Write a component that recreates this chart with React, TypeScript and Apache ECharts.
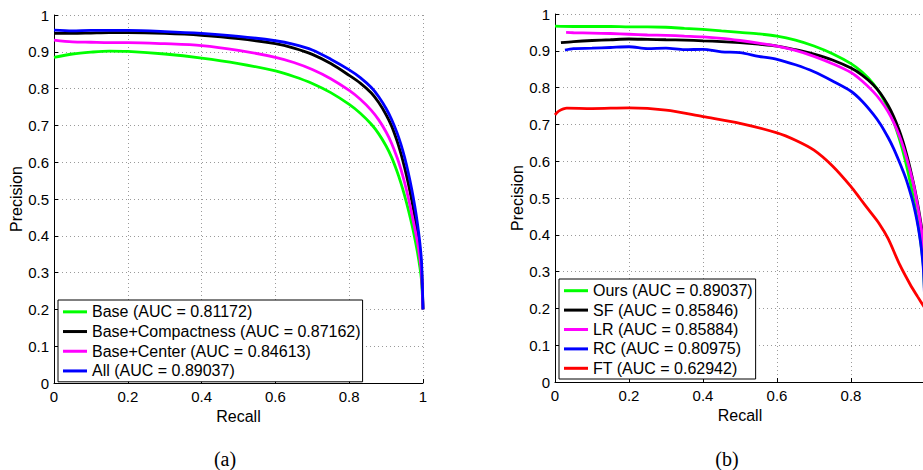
import React, { useEffect, useRef } from "react";
import * as echarts from "echarts";

const FONT = "'Liberation Sans', Arial, Helvetica, sans-serif";
const SERIF = "'Liberation Serif', 'Times New Roman', serif";

// ---------- Panel (a): shared recall samples ----------
const recallA = [0, 0.05, 0.1, 0.15, 0.2, 0.3, 0.4, 0.5, 0.6, 0.65, 0.7, 0.75, 0.8, 0.83, 0.86, 0.88, 0.9, 0.915, 0.93, 0.94, 0.95, 0.96, 0.97, 0.978, 0.985, 0.991, 0.996, 1];

const baseName = "Base (AUC = 0.81172)";
const basePrecision = [0.885, 0.894, 0.899, 0.902, 0.901, 0.894, 0.883, 0.868, 0.848, 0.833, 0.814, 0.789, 0.757, 0.733, 0.703, 0.677, 0.644, 0.613, 0.574, 0.544, 0.51, 0.472, 0.43, 0.392, 0.355, 0.318, 0.278, 0.2];

const compName = "Base+Compactness (AUC = 0.87162)";
const compPrecision = [0.95, 0.95, 0.951, 0.952, 0.952, 0.95, 0.945, 0.936, 0.922, 0.91, 0.893, 0.868, 0.836, 0.815, 0.788, 0.762, 0.729, 0.698, 0.657, 0.624, 0.586, 0.543, 0.494, 0.45, 0.406, 0.361, 0.311, 0.2];

const centerName = "Base+Center (AUC = 0.84613)";
const centerPrecision = [0.932, 0.927, 0.926, 0.925, 0.925, 0.922, 0.917, 0.904, 0.885, 0.871, 0.852, 0.827, 0.795, 0.771, 0.741, 0.715, 0.682, 0.651, 0.612, 0.581, 0.545, 0.504, 0.458, 0.419, 0.383, 0.344, 0.299, 0.2];

const allName = "All (AUC = 0.89037)";
const allPrecision = [0.959, 0.957, 0.958, 0.958, 0.958, 0.955, 0.95, 0.942, 0.93, 0.92, 0.905, 0.88, 0.851, 0.83, 0.803, 0.778, 0.746, 0.716, 0.679, 0.649, 0.614, 0.572, 0.524, 0.479, 0.433, 0.385, 0.33, 0.2];

// ---------- Panel (b) ----------
const oursName = "Ours (AUC = 0.89037)";
const oursRecall = [0, 0.05, 0.1, 0.15, 0.2, 0.25, 0.3, 0.35, 0.4, 0.45, 0.5, 0.55, 0.6, 0.65, 0.7, 0.75, 0.8, 0.83, 0.86, 0.88, 0.9, 0.915, 0.93, 0.94, 0.95, 0.96, 0.97, 0.978, 0.985, 0.991, 0.996, 1];
const oursPrecision = [0.967, 0.966, 0.966, 0.966, 0.965, 0.965, 0.964, 0.961, 0.958, 0.954, 0.95, 0.946, 0.94, 0.929, 0.913, 0.892, 0.865, 0.842, 0.811, 0.782, 0.744, 0.708, 0.663, 0.628, 0.588, 0.543, 0.493, 0.448, 0.404, 0.359, 0.309, 0.2];

const sfName = "SF (AUC = 0.85846)";
const sfRecall = [0.016, 0.05, 0.1, 0.15, 0.2, 0.25, 0.3, 0.35, 0.4, 0.45, 0.5, 0.55, 0.6, 0.65, 0.7, 0.75, 0.8, 0.83, 0.86, 0.88, 0.9, 0.915, 0.93, 0.94, 0.95, 0.96, 0.97, 0.978, 0.985, 0.991, 0.996, 1];
const sfPrecision = [0.922, 0.925, 0.928, 0.93, 0.932, 0.931, 0.93, 0.929, 0.927, 0.925, 0.922, 0.918, 0.913, 0.903, 0.891, 0.875, 0.853, 0.834, 0.808, 0.784, 0.752, 0.722, 0.685, 0.655, 0.62, 0.58, 0.535, 0.495, 0.456, 0.418, 0.38, 0.2];

const lrName = "LR (AUC = 0.85884)";
const lrRecall = [0.03, 0.05, 0.1, 0.15, 0.2, 0.25, 0.3, 0.35, 0.4, 0.45, 0.5, 0.55, 0.6, 0.65, 0.7, 0.75, 0.8, 0.83, 0.86, 0.88, 0.9, 0.915, 0.93, 0.94, 0.95, 0.96, 0.97, 0.978, 0.985, 0.991, 0.996, 1];
const lrPrecision = [0.95, 0.949, 0.948, 0.947, 0.945, 0.943, 0.942, 0.94, 0.938, 0.934, 0.928, 0.921, 0.913, 0.901, 0.885, 0.865, 0.841, 0.818, 0.789, 0.765, 0.735, 0.706, 0.671, 0.643, 0.61, 0.573, 0.532, 0.49, 0.45, 0.41, 0.36, 0.2];

const rcName = "RC (AUC = 0.80975)";
const rcRecall = [0.027, 0.05, 0.1, 0.15, 0.2, 0.25, 0.3, 0.35, 0.4, 0.45, 0.5, 0.55, 0.6, 0.65, 0.7, 0.75, 0.8, 0.83, 0.86, 0.88, 0.9, 0.915, 0.93, 0.94, 0.95, 0.96, 0.97, 0.978, 0.985, 0.991, 0.996, 1];
const rcPrecision = [0.902, 0.906, 0.907, 0.909, 0.911, 0.906, 0.907, 0.903, 0.904, 0.897, 0.895, 0.885, 0.877, 0.862, 0.843, 0.818, 0.79, 0.763, 0.728, 0.7, 0.665, 0.635, 0.6, 0.575, 0.548, 0.515, 0.478, 0.44, 0.4, 0.355, 0.3, 0.2];

const ftName = "FT (AUC = 0.62942)";
const ftRecall = [0, 0.01, 0.032, 0.1, 0.2, 0.3, 0.4, 0.5, 0.6, 0.65, 0.7, 0.75, 0.8, 0.825, 0.85, 0.875, 0.9, 0.932, 0.96, 0.98, 1];
const ftPrecision = [0.726, 0.736, 0.744, 0.743, 0.745, 0.739, 0.721, 0.703, 0.677, 0.657, 0.63, 0.587, 0.531, 0.498, 0.465, 0.432, 0.39, 0.318, 0.265, 0.232, 0.2];

const xTicks = { min: 0, max: 1, interval: 0.2 };
const yTicks = { min: 0, max: 1, interval: 0.1 };
const captions = ["(a)", "(b)"];

const zip = (xs: number[], ys: number[]) => xs.map((x, i) => [x, ys[i]]);
const fmt = (v: number) => String(Math.round(v * 10) / 10);

const gridLine = { show: true, lineStyle: { color: "#9a9a9a", width: 1, type: [1, 3] } };

function xAxis(gridIndex: number, showMax: boolean) {
  return {
    type: "value",
    gridIndex,
    ...xTicks,
    name: "Recall",
    nameLocation: "middle",
    nameGap: 17,
    nameTextStyle: { fontFamily: FONT, fontSize: 16, color: "#000" },
    axisLine: { show: true, onZero: false, lineStyle: { color: "#000", width: 1 } },
    axisTick: { show: true, inside: true, length: 4, lineStyle: { color: "#000", width: 1 } },
    axisLabel: { fontFamily: FONT, fontSize: 15, color: "#000", margin: 6, formatter: fmt, showMaxLabel: showMax },
    splitLine: gridLine,
  };
}

function yAxis(gridIndex: number) {
  return {
    type: "value",
    gridIndex,
    ...yTicks,
    name: "Precision",
    nameLocation: "middle",
    nameGap: 28,
    nameTextStyle: { fontFamily: FONT, fontSize: 16, color: "#000" },
    axisLine: { show: true, onZero: false, lineStyle: { color: "#000", width: 1 } },
    axisTick: { show: true, inside: true, length: 4, lineStyle: { color: "#000", width: 1 } },
    axisLabel: { fontFamily: FONT, fontSize: 15, color: "#000", margin: 5, formatter: fmt },
    splitLine: gridLine,
  };
}

function line(name: string, idx: number, rec: number[], prec: number[], color: string) {
  return {
    type: "line",
    name,
    xAxisIndex: idx,
    yAxisIndex: idx,
    data: zip(rec, prec),
    symbol: "none",
    showSymbol: false,
    smooth: 0.3,
    lineStyle: { color, width: 2.8 },
    itemStyle: { color },
    emphasis: { disabled: true },
  };
}

const legendCommon = {
  orient: "vertical",
  icon: "rect",
  itemWidth: 24,
  itemHeight: 3,
  itemGap: 0,
  borderColor: "#000",
  borderWidth: 1,
  borderRadius: 0,
  backgroundColor: "#fff",
  selectedMode: false,
};

export default function App() {
  const ref = useRef<HTMLDivElement>(null);
  useEffect(() => {
    if (!ref.current) return;
    const chart = echarts.init(ref.current, null, { renderer: "svg" });
    chart.setOption({
      animation: false,
      backgroundColor: "#fff",
      grid: [
        { left: 54, top: 15, width: 369, height: 368, containLabel: false, outerBoundsMode: "none" },
        { left: 555, top: 14, width: 370, height: 368, containLabel: false, outerBoundsMode: "none" },
      ],
      xAxis: [xAxis(0, true), xAxis(1, false)],
      yAxis: [yAxis(0), yAxis(1)],
      legend: [
        {
          ...legendCommon,
          data: [baseName, compName, centerName, allName],
          left: 58,
          top: 300,
          padding: [2, 2, 1, 5],
          textStyle: { fontFamily: FONT, fontSize: 16, color: "#000", lineHeight: 19.7 },
        },
        {
          ...legendCommon,
          data: [oursName, sfName, lrName, rcName, ftName],
          left: 559,
          top: 279,
          padding: [2, 3, 1, 5],
          textStyle: { fontFamily: FONT, fontSize: 16, color: "#000", lineHeight: 19.4 },
        },
      ],
      series: [
        line(baseName, 0, recallA, basePrecision, "#00ff00"),
        line(compName, 0, recallA, compPrecision, "#000000"),
        line(centerName, 0, recallA, centerPrecision, "#ff00ff"),
        line(allName, 0, recallA, allPrecision, "#0000ff"),
        line(oursName, 1, oursRecall, oursPrecision, "#00ff00"),
        line(sfName, 1, sfRecall, sfPrecision, "#000000"),
        line(lrName, 1, lrRecall, lrPrecision, "#ff00ff"),
        line(rcName, 1, rcRecall, rcPrecision, "#0000ff"),
        line(ftName, 1, ftRecall, ftPrecision, "#ff0000"),
      ],
      graphic: [
        {
          type: "text",
          x: 225,
          y: 459,
          style: { text: captions[0], fontFamily: SERIF, fontSize: 20, fill: "#000", align: "center", verticalAlign: "middle" },
        },
        {
          type: "text",
          x: 727,
          y: 459,
          style: { text: captions[1], fontFamily: SERIF, fontSize: 20, fill: "#000", align: "center", verticalAlign: "middle" },
        },
      ],
    });
    return () => chart.dispose();
  }, []);
  return (
    <div
      ref={ref}
      style={{ position: "fixed", left: 0, top: 0, width: 923, height: 470, background: "#fff" }}
    />
  );
}
